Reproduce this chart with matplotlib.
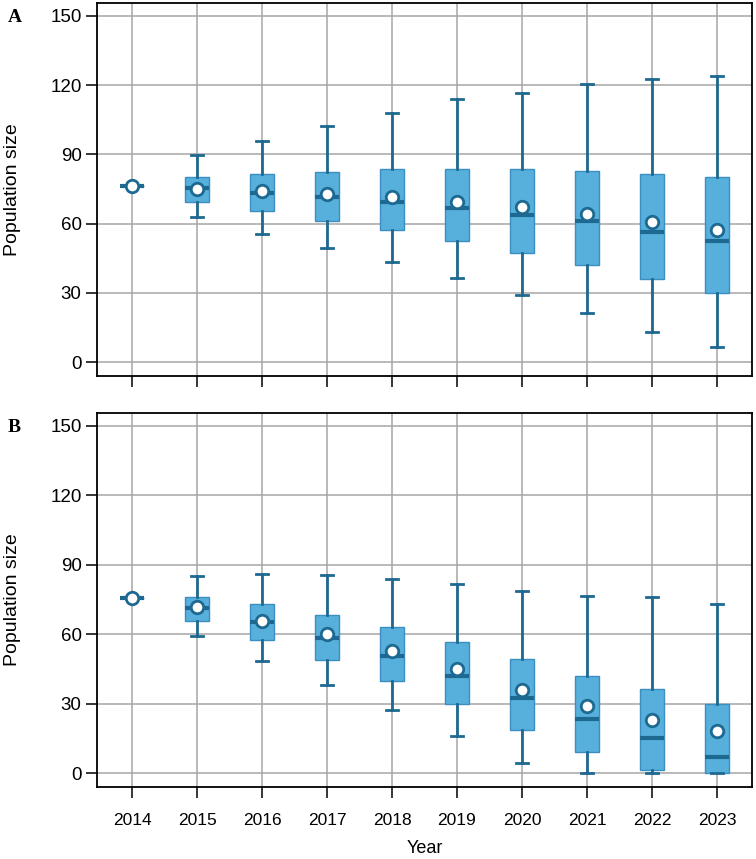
import matplotlib
matplotlib.use("Agg")
import matplotlib.pyplot as plt
import numpy as np

plt.rcParams["font.family"] = ["Liberation Sans", "DejaVu Sans"]

years = ["2014", "2015", "2016", "2017", "2018", "2019", "2020", "2021", "2022", "2023"]

# Panel A
a_whislo = [76.2, 62.9, 55.5, 49.6, 43.2, 36.4, 29.3, 21.2, 13.0, 6.6]
a_q1 = [76.2, 69.5, 65.6, 61.2, 57.1, 52.7, 47.5, 41.9, 35.9, 30.0]
a_med = [76.2, 75.5, 73.4, 71.5, 69.2, 66.9, 63.7, 61.0, 56.5, 52.7]
a_q3 = [76.2, 80.0, 81.6, 82.3, 83.5, 83.5, 83.8, 82.7, 81.4, 80.2]
a_whishi = [76.2, 89.7, 95.8, 102.3, 108.1, 114.0, 116.5, 120.5, 122.7, 124.0]
a_mean = [76.2, 75.0, 74.1, 72.8, 71.5, 69.4, 67.2, 64.2, 60.7, 57.4]

# Panel B
b_whislo = [75.8, 59.3, 48.6, 38.0, 27.2, 16.0, 4.2, 0.0, 0.0, 0.0]
b_q1 = [75.8, 65.8, 57.5, 49.0, 39.9, 29.8, 18.8, 9.1, 1.2, 0.0]
b_med = [75.8, 71.4, 65.4, 58.3, 50.6, 41.9, 32.4, 23.3, 15.3, 6.9]
b_q3 = [75.8, 76.2, 72.9, 68.3, 63.3, 56.7, 49.1, 41.9, 36.4, 29.8]
b_whishi = [75.8, 85.2, 86.2, 85.8, 83.7, 81.9, 78.8, 76.4, 76.0, 73.0]
b_mean = [75.8, 71.6, 65.8, 60.0, 52.9, 44.8, 36.1, 28.9, 23.0, 18.3]

FILL = "#56b0db"
EDGE = "#3a8ec2"
DARK = "#1e6991"


def draw_panel(ax, whislo, q1, med, q3, whishi, mean, letter, show_xlabels):
    stats = []
    for i in range(len(years)):
        stats.append(dict(whislo=whislo[i], q1=q1[i], med=med[i], q3=q3[i],
                          whishi=whishi[i], mean=mean[i], fliers=[]))
    pos = np.arange(len(years))
    ax.bxp(stats, positions=pos, widths=0.38, patch_artist=True, showmeans=True,
           showfliers=False, capwidths=0.19,
           boxprops=dict(facecolor=FILL, edgecolor=EDGE, linewidth=1.0),
           whiskerprops=dict(color=DARK, linewidth=2.0),
           capprops=dict(color=DARK, linewidth=2.0),
           medianprops=dict(color=DARK, linewidth=3.0, solid_capstyle="butt"),
           meanprops=dict(marker="o", markerfacecolor="white", markeredgecolor=DARK,
                          markeredgewidth=2.0, markersize=9),
           zorder=3)
    ax.set_xlim(-0.54, 9.54)
    ax.set_ylim(-6, 155.6)
    ax.set_yticks([0, 30, 60, 90, 120, 150])
    ax.set_xticks(pos)
    if show_xlabels:
        ax.set_xticklabels(years)
        ax.set_xlabel("Year", fontsize=13, labelpad=8)
    else:
        ax.set_xticklabels([])
    ax.grid(True, color="#a6a6a6", linewidth=1.1)
    ax.set_axisbelow(True)
    ax.tick_params(axis="both", direction="out", length=8, width=1.1)
    ax.tick_params(axis="x", pad=11, labelsize=12.5)
    ax.tick_params(axis="y", pad=3, labelsize=13.5)
    for s in ax.spines.values():
        s.set_linewidth(1.3)
    ax.set_ylabel("Population size", fontsize=14)
    ax.yaxis.set_label_coords(-0.116, 0.5)
    ax.text(-0.136, 0.985, letter, transform=ax.transAxes, fontsize=14,
            fontweight="bold", family="Liberation Serif", va="top", ha="left")


fig = plt.figure(figsize=(7.56, 8.59), dpi=100)
ax_a = fig.add_axes([0.1283, 0.5623, 0.8664, 0.4342])
ax_b = fig.add_axes([0.1283, 0.0838, 0.8664, 0.4354])

draw_panel(ax_a, a_whislo, a_q1, a_med, a_q3, a_whishi, a_mean, "A", False)
draw_panel(ax_b, b_whislo, b_q1, b_med, b_q3, b_whishi, b_mean, "B", True)

fig.savefig("out.png", dpi=100)
